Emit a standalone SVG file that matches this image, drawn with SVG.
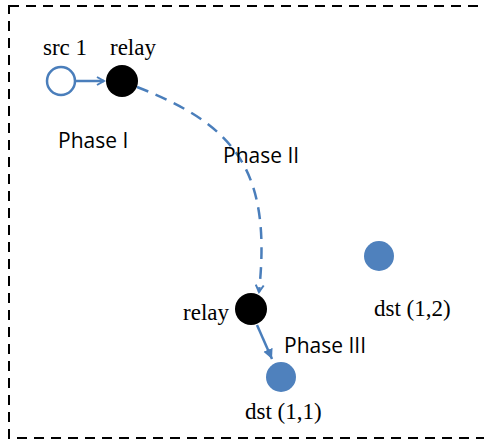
<svg xmlns="http://www.w3.org/2000/svg" width="484" height="441" viewBox="0 0 484 441">
<style>
.serif{font-family:"Liberation Serif","DejaVu Serif",serif;font-size:23px;fill:#000}
.sans{font-family:"Open Sans","Liberation Sans",sans-serif;font-size:21px;fill:#000}
.blue{stroke:#4a7ebb;stroke-width:2.5;fill:none}
.dst{fill:#4f81bd}
.relay{fill:#000}
</style>
<defs>
<marker id="ah" markerWidth="10" markerHeight="10" refX="8" refY="5" orient="auto" markerUnits="userSpaceOnUse">
<path d="M1,1 L8,5 L1,9" fill="none" stroke="#4a7ebb" stroke-width="2"/>
</marker>
<marker id="ahf" markerWidth="12" markerHeight="12" refX="10" refY="6" orient="auto" markerUnits="userSpaceOnUse">
<path d="M0,1 L10,6 L0,11 Z" fill="#4a7ebb"/>
</marker>
</defs>
<rect x="9" y="6" width="490" height="432" fill="none" stroke="#000" stroke-width="2" stroke-dasharray="10,7"/>
<g id="connectors">
<line x1="76" y1="81" x2="104" y2="81" class="blue" marker-end="url(#ah)"/>
<path d="M137,87 C235,125 272,170 259,292" class="blue" stroke-width="3" stroke-dasharray="12,8" marker-end="url(#ah)"/>
<line x1="257" y1="325" x2="272" y2="359" class="blue" marker-end="url(#ahf)"/>
</g>
<g id="src1">
<circle cx="61" cy="81" r="14" fill="#fff" stroke="#4a7ebb" stroke-width="2.5"/>
<text x="43" y="55" class="serif">src 1</text>
</g>
<g id="relay1">
<circle cx="122" cy="81" r="16" class="relay"/>
<text x="110" y="55" class="serif">relay</text>
</g>
<g id="relay2">
<circle cx="251" cy="309" r="16" class="relay"/>
<text x="229" y="320" class="serif" text-anchor="end">relay</text>
</g>
<g id="dst11">
<circle cx="281" cy="377" r="15" class="dst"/>
<text x="245" y="419" class="serif">dst (1,1)</text>
</g>
<g id="dst12">
<circle cx="379" cy="256" r="15" class="dst"/>
<text x="374" y="316" class="serif">dst (1,2)</text>
</g>
<g id="labels">
<text x="58" y="148" class="sans">Phase I</text>
<text x="223" y="163" class="sans">Phase II</text>
<text x="284" y="353" class="sans">Phase III</text>
</g>
</svg>
